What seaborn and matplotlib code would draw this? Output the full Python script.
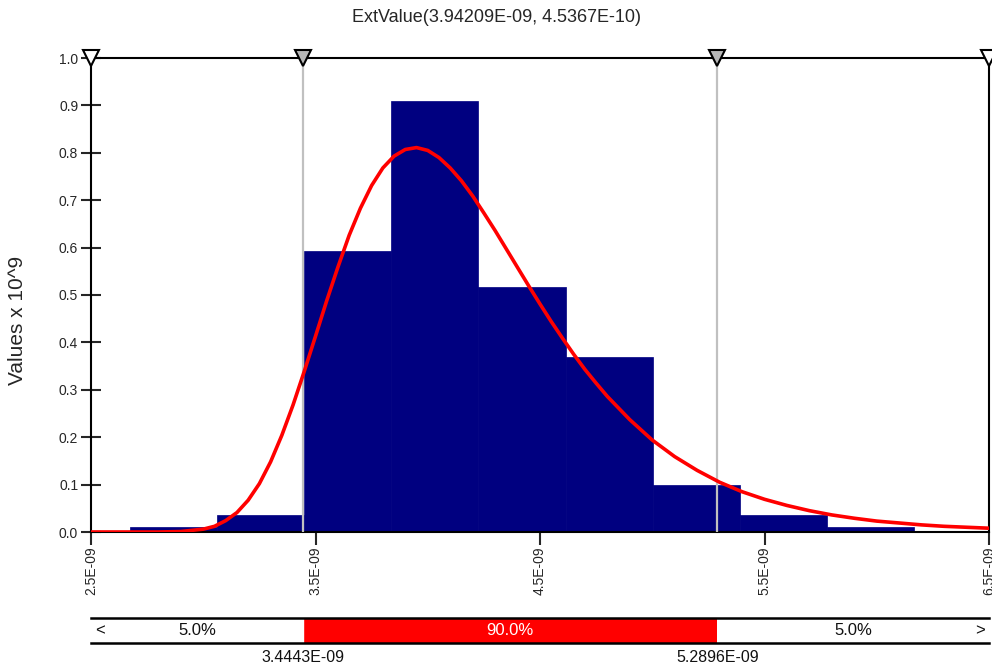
import matplotlib
matplotlib.use("Agg")
import matplotlib.pyplot as plt
import seaborn as sns

# x values are in units of 1E-09, y values are density x 10^9
bin_edges = [2.672, 3.060, 3.449, 3.837, 4.225, 4.614, 5.002, 5.390, 5.778, 6.167]
bin_heights = [0.010, 0.036, 0.593, 0.909, 0.516, 0.369, 0.100, 0.036, 0.011]

# fitted ExtValue curve
curve_x = [2.5, 2.6, 2.7, 2.8, 2.9, 3.0, 3.05, 3.1, 3.15, 3.2, 3.25, 3.3, 3.35,
           3.4, 3.45, 3.5, 3.55, 3.6, 3.65, 3.7, 3.75, 3.8, 3.85, 3.9, 3.95,
           4.0, 4.05, 4.1, 4.15, 4.2, 4.25, 4.3, 4.35, 4.4, 4.45, 4.5, 4.55,
           4.6, 4.65, 4.7, 4.75, 4.8, 4.9, 5.0, 5.1, 5.2, 5.3, 5.4, 5.5, 5.6,
           5.7, 5.8, 5.9, 6.0, 6.1, 6.2, 6.3, 6.4, 6.5]
curve_y = [0.000, 0.000, 0.000, 0.000, 0.001, 0.006, 0.012, 0.024, 0.041, 0.067,
           0.102, 0.148, 0.204, 0.268, 0.339, 0.413, 0.488, 0.559, 0.626, 0.683,
           0.731, 0.768, 0.793, 0.807, 0.811, 0.805, 0.790, 0.768, 0.741, 0.709,
           0.673, 0.636, 0.597, 0.558, 0.519, 0.481, 0.444, 0.409, 0.375, 0.343,
           0.314, 0.286, 0.237, 0.194, 0.159, 0.130, 0.105, 0.085, 0.069, 0.056,
           0.045, 0.036, 0.029, 0.023, 0.019, 0.015, 0.012, 0.010, 0.008]

x_ticks = [2.5, 3.5, 4.5, 5.5, 6.5]
x_tick_labels = ["2.5E-09", "3.5E-09", "4.5E-09", "5.5E-09", "6.5E-09"]
y_ticks = [0.0, 0.1, 0.2, 0.3, 0.4, 0.5, 0.6, 0.7, 0.8, 0.9, 1.0]
y_tick_labels = ["0.0", "0.1", "0.2", "0.3", "0.4", "0.5", "0.6", "0.7", "0.8", "0.9", "1.0"]

left_cut = 3.4443
right_cut = 5.2896
left_cut_label = "3.4443E-09"
right_cut_label = "5.2896E-09"
pct_labels = ["5.0%", "90.0%", "5.0%"]
title = "ExtValue(3.94209E-09, 4.5367E-10)"
y_label = "Values x 10^9"

sns.set_style("white")
plt.rcParams["font.family"] = ["Liberation Sans", "DejaVu Sans"]

fig = plt.figure(figsize=(9.92, 6.69), dpi=100)
ax = fig.add_axes([91 / 992, 137 / 669, 898 / 992, 474 / 669])

#Histogram
bin_mids = [(a + b) / 2 for a, b in zip(bin_edges[:-1], bin_edges[1:])]
sns.histplot(x=bin_mids, weights=bin_heights, bins=bin_edges, color="#000080",
             edgecolor="#000080", linewidth=0.5, alpha=1, ax=ax, zorder=2)

#Cut lines
for xc in [left_cut, right_cut]:
    ax.axvline(xc, color="#c0c0c0", lw=1.6, zorder=3)

#Fitted curve
sns.lineplot(x=curve_x, y=curve_y, color="red", lw=2.6, ax=ax, zorder=5)

ax.set_xlim(2.5, 6.5)
ax.set_ylim(0, 1.0)
ax.set_xticks(x_ticks)
ax.set_xticklabels(x_tick_labels, rotation=90, fontsize=10)
ax.set_yticks(y_ticks)
ax.set_yticklabels(y_tick_labels, fontsize=10)
ax.tick_params(axis="y", direction="inout", length=14.5, width=1.5, pad=2, left=True)
ax.tick_params(axis="x", direction="out", length=9.5, width=1.5, pad=1, bottom=True)
ax.set_xlabel("")
ax.set_ylabel("")
for s in ax.spines.values():
    s.set_visible(True)
    s.set_color("black")
    s.set_linewidth(1.5)

#Triangle markers on the top edge
for xm, fc in zip([2.5, left_cut, right_cut, 6.5], ["white", "#b8b8b8", "#b8b8b8", "white"]):
    ax.plot([xm], [1.0], marker="v", markersize=11.5, markerfacecolor=fc,
            markeredgecolor="black", markeredgewidth=1.5, clip_on=False, zorder=10)

fig.text(496 / 992, 1 - 18 / 669, title, ha="center", va="center", fontsize=13)
fig.text(18 / 992, 1 - 320 / 669, y_label, ha="center", va="center",
         rotation=90, fontsize=15)

#Bottom percentile strip
ax2 = fig.add_axes([91 / 992, 26 / 669, 898 / 992, 25 / 669])
ax2.set_xlim(2.5, 6.5)
ax2.set_ylim(0, 1)
ax2.axvspan(left_cut, right_cut, color="red", lw=0)
ax2.axvline(left_cut, color="white", lw=1)
ax2.set_xticks([])
ax2.set_yticks([])
ax2.spines["left"].set_visible(False)
ax2.spines["right"].set_visible(False)
for s in ["top", "bottom"]:
    ax2.spines[s].set_linewidth(1.8)
    ax2.spines[s].set_color("black")

mids = [(2.5 + left_cut) / 2, (left_cut + right_cut) / 2, (right_cut + 6.5) / 2]
for xm, lab, c in zip(mids, pct_labels, ["#111111", "white", "#111111"]):
    ax2.text(xm, 0.5, lab, ha="center", va="center", fontsize=12, color=c)
ax2.text(2.52, 0.5, "<", ha="left", va="center", fontsize=12, color="#111111")
ax2.text(6.48, 0.5, ">", ha="right", va="center", fontsize=12, color="#111111")

fig.text((91 + (left_cut - 2.5) * 224.5) / 992, 1 - 658 / 669, left_cut_label,
         ha="center", va="center", fontsize=11.5, color="#111111")
fig.text((91 + (right_cut - 2.5) * 224.5) / 992, 1 - 658 / 669, right_cut_label,
         ha="center", va="center", fontsize=11.5, color="#111111")

plt.savefig("out.png", dpi=100)
plt.close()
